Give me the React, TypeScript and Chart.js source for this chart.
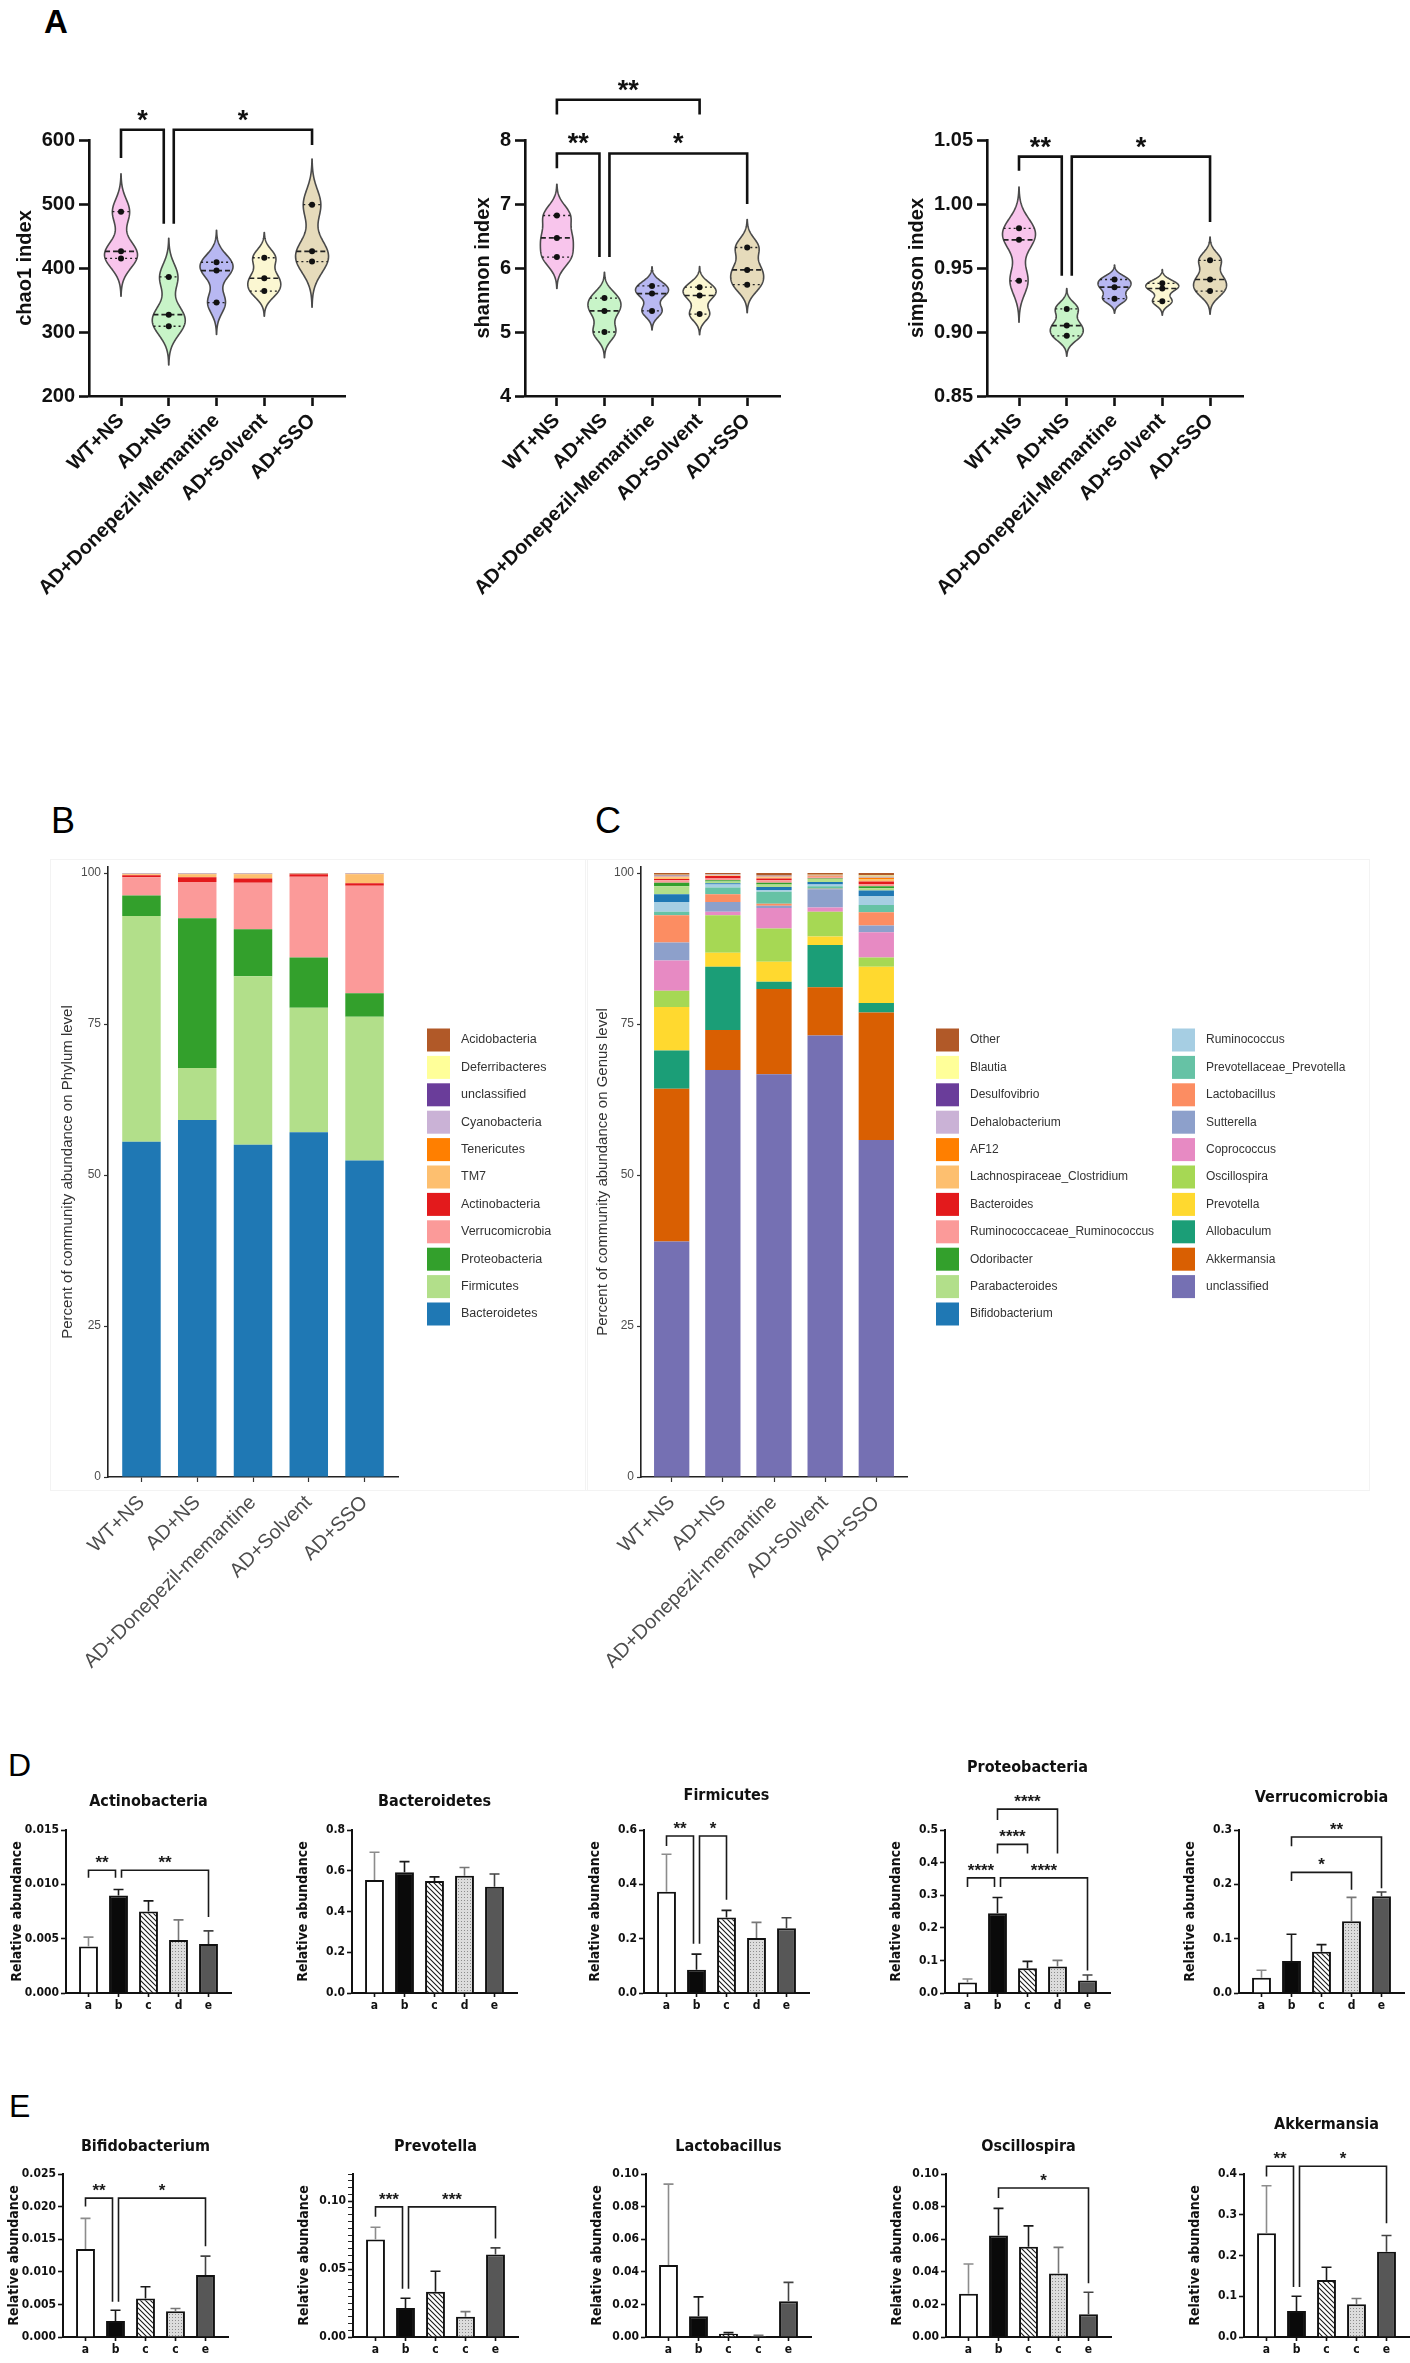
import React, { useEffect, useRef } from 'react';
import { Chart, registerables } from 'chart.js';

Chart.register(...registerables);

const SANS = "'Liberation Sans', Arial, Helvetica, sans-serif";
const NARROW = "'Liberation Sans Narrow', 'DejaVu Sans Condensed', 'Liberation Sans', Arial, sans-serif";
Chart.defaults.font.family = SANS;

// ================= Panel A : alpha diversity (violins) =================
const groupsA = ['WT+NS', 'AD+NS', 'AD+Donepezil-Memantine', 'AD+Solvent', 'AD+SSO'];
const chao1Values = [[488, 426, 415], [386, 327, 309], [409, 396, 346], [416, 384, 364], [499, 426, 410]];
const shannonValues = [[6.82, 6.47, 6.17], [5.53, 5.33, 5.0], [5.72, 5.6, 5.33], [5.7, 5.57, 5.28], [6.32, 5.97, 5.74]];
const simpsonValues = [[0.981, 0.972, 0.94], [0.918, 0.905, 0.897], [0.941, 0.935, 0.926], [0.938, 0.934, 0.924], [0.956, 0.941, 0.932]];
const chao1Ticks = [200, 300, 400, 500, 600];
const shannonTicks = [4, 5, 6, 7, 8];
const simpsonTicks = [0.85, 0.9, 0.95, 1.0, 1.05];
const violinFills = ['#f8c5ec', '#c8f4c8', '#b8b8f2', '#fbf7d2', '#e6dbbb'];

type Bracket = { a: number; b: number; top: number; ya: number; yb: number; label: string };
const chao1Brackets: Bracket[] = [
  { a: 1, b: 2, top: 616, ya: 572, yb: 469, label: '*' },
  { a: 2, b: 5, top: 616, ya: 469, yb: 592, label: '*' },
];
const shannonBrackets: Bracket[] = [
  { a: 1, b: 4, top: 8.63, ya: 8.4, yb: 8.4, label: '**' },
  { a: 1, b: 2, top: 7.79, ya: 7.56, yb: 6.17, label: '**' },
  { a: 2, b: 5, top: 7.79, ya: 6.17, yb: 7.0, label: '*' },
];
const simpsonBrackets: Bracket[] = [
  { a: 1, b: 2, top: 1.037, ya: 1.026, yb: 0.944, label: '**' },
  { a: 2, b: 5, top: 1.037, ya: 0.944, yb: 0.986, label: '*' },
];

// ================= Panel B : phylum level =================
const groupsBC = ['WT+NS', 'AD+NS', 'AD+Donepezil-memantine', 'AD+Solvent', 'AD+SSO'];
const phylumNames = ['Bacteroidetes', 'Firmicutes', 'Proteobacteria', 'Verrucomicrobia', 'Actinobacteria', 'TM7', 'Tenericutes', 'Cyanobacteria', 'unclassified', 'Deferribacteres', 'Acidobacteria'];
const phylumColors = ['#1f78b4', '#b2df8a', '#33a02c', '#fb9a99', '#e31a1c', '#fdbf6f', '#ff7f00', '#cab2d6', '#6a3d9a', '#ffff99', '#b15928'];
const pBacteroidetes = [55.5, 59.1, 55.0, 57.1, 52.4];
const pFirmicutes = [37.4, 8.6, 27.9, 20.6, 23.8];
const pProteobacteria = [3.4, 24.8, 7.8, 8.3, 3.9];
const pVerrucomicrobia = [3.0, 6.0, 7.7, 13.4, 17.8];
const pActinobacteria = [0.35, 0.8, 0.7, 0.4, 0.4];
const pTM7 = [0.15, 0.5, 0.7, 0.05, 1.5];
const pTenericutes = [0.05, 0.05, 0.05, 0.05, 0.05];
const pCyanobacteria = [0.05, 0.05, 0.05, 0.03, 0.05];
const pUnclassified = [0.03, 0.03, 0.03, 0.03, 0.03];
const pDeferribacteres = [0.03, 0.03, 0.03, 0.02, 0.03];
const pAcidobacteria = [0.04, 0.04, 0.04, 0.02, 0.04];
const phylumSeries = [pBacteroidetes, pFirmicutes, pProteobacteria, pVerrucomicrobia, pActinobacteria, pTM7, pTenericutes, pCyanobacteria, pUnclassified, pDeferribacteres, pAcidobacteria];

// ================= Panel C : genus level =================
const genusNames = ['unclassified', 'Akkermansia', 'Allobaculum', 'Prevotella', 'Oscillospira', 'Coprococcus', 'Sutterella', 'Lactobacillus', 'Prevotellaceae_Prevotella', 'Ruminococcus', 'Bifidobacterium', 'Parabacteroides', 'Odoribacter', 'Ruminococcaceae_Ruminococcus', 'Bacteroides', 'Lachnospiraceae_Clostridium', 'AF12', 'Dehalobacterium', 'Desulfovibrio', 'Blautia', 'Other'];
const genusColors = ['#7570b3', '#d95f02', '#1b9e77', '#ffd92f', '#a6d854', '#e78ac3', '#8da0cb', '#fc8d62', '#66c2a5', '#a6cee3', '#1f78b4', '#b2df8a', '#33a02c', '#fb9a99', '#e31a1c', '#fdbf6f', '#ff7f00', '#cab2d6', '#6a3d9a', '#ffff99', '#b15928'];
const gUnclassified = [39.0, 67.4, 66.7, 73.1, 55.8];
const gAkkermansia = [25.3, 6.6, 14.1, 8.0, 21.1];
const gAllobaculum = [6.3, 10.5, 1.2, 7.0, 1.6];
const gPrevotella = [7.2, 2.3, 3.3, 1.4, 6.0];
const gOscillospira = [2.7, 6.2, 5.5, 4.1, 1.5];
const gCoprococcus = [5.0, 0.6, 3.4, 0.7, 4.2];
const gSutterella = [3.0, 1.6, 0.4, 3.0, 1.1];
const gLactobacillus = [4.5, 1.3, 0.3, 0.1, 2.2];
const gPrevotellaceae = [0.6, 1.1, 2.0, 0.4, 1.2];
const gRuminococcus = [1.6, 0.5, 0.3, 0.3, 1.5];
const gBifidobacterium = [1.3, 0.2, 0.5, 0.4, 0.9];
const gParabacteroides = [1.3, 0.3, 0.4, 0.5, 0.4];
const gOdoribacter = [0.6, 0.2, 0.3, 0.1, 0.3];
const gRumRuminococcus = [0.4, 0.3, 0.4, 0.2, 0.4];
const gBacteroides = [0.2, 0.4, 0.3, 0.1, 0.4];
const gLachnoClostridium = [0.3, 0.1, 0.2, 0.1, 0.4];
const gAF12 = [0.1, 0.05, 0.1, 0.05, 0.2];
const gDehalobacterium = [0.1, 0.05, 0.1, 0.05, 0.1];
const gDesulfovibrio = [0.1, 0.05, 0.05, 0.05, 0.1];
const gBlautia = [0.1, 0.05, 0.05, 0.05, 0.2];
const gOther = [0.3, 0.2, 0.4, 0.3, 0.4];
const genusSeries = [gUnclassified, gAkkermansia, gAllobaculum, gPrevotella, gOscillospira, gCoprococcus, gSutterella, gLactobacillus, gPrevotellaceae, gRuminococcus, gBifidobacterium, gParabacteroides, gOdoribacter, gRumRuminococcus, gBacteroides, gLachnoClostridium, gAF12, gDehalobacterium, gDesulfovibrio, gBlautia, gOther];
const stackTicks = [0, 25, 50, 75, 100];

// ================= Panels D and E : relative abundance bars =================
const labelsD = ['a', 'b', 'c', 'd', 'e'];
const labelsE = ['a', 'b', 'c', 'c', 'e'];

const titlesD = ['Actinobacteria', 'Bacteroidetes', 'Firmicutes', 'Proteobacteria', 'Verrucomicrobia'];
const meanActino = [0.00429, 0.00897, 0.0075, 0.00487, 0.0045];
const sdActino = [0.00085, 0.00055, 0.00098, 0.00186, 0.00122];
const meanBacteroidetes = [0.555, 0.593, 0.55, 0.575, 0.522];
const sdBacteroidetes = [0.136, 0.052, 0.02, 0.041, 0.062];
const meanFirmicutes = [0.373, 0.086, 0.278, 0.202, 0.238];
const sdFirmicutes = [0.138, 0.057, 0.026, 0.058, 0.039];
const meanProteo = [0.032, 0.245, 0.076, 0.081, 0.038];
const sdProteo = [0.011, 0.048, 0.021, 0.019, 0.017];
const meanVerruco = [0.028, 0.059, 0.076, 0.132, 0.178];
const sdVerruco = [0.014, 0.049, 0.013, 0.044, 0.008];

const titlesE = ['Bifidobacterium', 'Prevotella', 'Lactobacillus', 'Oscillospira', 'Akkermansia'];
const meanBifido = [0.0135, 0.00246, 0.0059, 0.00395, 0.0095];
const sdBifido = [0.0047, 0.00164, 0.0018, 0.00041, 0.0029];
const meanPrevotella = [0.0717, 0.0214, 0.0334, 0.015, 0.0607];
const sdPrevotella = [0.0091, 0.0071, 0.015, 0.0037, 0.0049];
const meanLacto = [0.0441, 0.0127, 0.002, 0.0006, 0.022];
const sdLacto = [0.0497, 0.0119, 0.0007, 0.0004, 0.0115];
const meanOscillo = [0.0265, 0.0622, 0.0554, 0.039, 0.014];
const sdOscillo = [0.0183, 0.0167, 0.0128, 0.016, 0.0135];
const meanAkk = [0.2546, 0.064, 0.1396, 0.0805, 0.2094];
const sdAkk = [0.1164, 0.036, 0.0314, 0.014, 0.0396];

// y axes of the small charts: [max, step, decimals, labelled every]
const axisActino = [0.015, 0.005, 3, 0.005];
const axisBacteroidetes = [0.8, 0.2, 1, 0.2];
const axisFirmicutes = [0.6, 0.2, 1, 0.2];
const axisProteo = [0.5, 0.1, 1, 0.1];
const axisVerruco = [0.3, 0.1, 1, 0.1];
const axisBifido = [0.025, 0.005, 3, 0.005];
const axisPrevotella = [0.12, 0.005, 2, 0.05];
const axisLacto = [0.1, 0.02, 2, 0.02];
const axisOscillo = [0.1, 0.02, 2, 0.02];
const axisAkk = [0.4, 0.1, 1, 0.1];

const bracketsActino: Bracket[] = [
  { a: 1, b: 2, top: 0.0113, ya: 0.0106, yb: 0.0106, label: '**' },
  { a: 2, b: 5, top: 0.0113, ya: 0.0106, yb: 0.007, label: '**' },
];
const bracketsFirmicutes: Bracket[] = [
  { a: 1, b: 2, top: 0.578, ya: 0.541, yb: 0.181, label: '**' },
  { a: 2, b: 3, top: 0.578, ya: 0.181, yb: 0.343, label: '*' },
];
const bracketsProteo: Bracket[] = [
  { a: 1, b: 2, top: 0.353, ya: 0.325, yb: 0.325, label: '****' },
  { a: 2, b: 5, top: 0.353, ya: 0.325, yb: 0.069, label: '****' },
  { a: 2, b: 3, top: 0.456, ya: 0.428, yb: 0.428, label: '****' },
  { a: 2, b: 4, top: 0.564, ya: 0.531, yb: 0.428, label: '****' },
];
const bracketsVerruco: Bracket[] = [
  { a: 2, b: 4, top: 0.222, ya: 0.206, yb: 0.19, label: '*' },
  { a: 2, b: 5, top: 0.287, ya: 0.27, yb: 0.193, label: '**' },
];
const bracketsBifido: Bracket[] = [
  { a: 1, b: 2, top: 0.0213, ya: 0.02, yb: 0.0054, label: '**' },
  { a: 2, b: 5, top: 0.0213, ya: 0.0054, yb: 0.0139, label: '*' },
];
const bracketsPrevotella: Bracket[] = [
  { a: 1, b: 2, top: 0.0958, ya: 0.0885, yb: 0.0356, label: '***' },
  { a: 2, b: 5, top: 0.0958, ya: 0.0356, yb: 0.0725, label: '***' },
];
const bracketsOscillo: Bracket[] = [{ a: 2, b: 5, top: 0.0914, ya: 0.0852, yb: 0.0329, label: '*' }];
const bracketsAkk: Bracket[] = [
  { a: 1, b: 2, top: 0.419, ya: 0.394, yb: 0.123, label: '**' },
  { a: 2, b: 5, top: 0.419, ya: 0.123, yb: 0.279, label: '*' },
];

const smallD = [
  { means: meanActino, sd: sdActino, axis: axisActino, brackets: bracketsActino },
  { means: meanBacteroidetes, sd: sdBacteroidetes, axis: axisBacteroidetes, brackets: [] as Bracket[] },
  { means: meanFirmicutes, sd: sdFirmicutes, axis: axisFirmicutes, brackets: bracketsFirmicutes },
  { means: meanProteo, sd: sdProteo, axis: axisProteo, brackets: bracketsProteo },
  { means: meanVerruco, sd: sdVerruco, axis: axisVerruco, brackets: bracketsVerruco },
];
const smallE = [
  { means: meanBifido, sd: sdBifido, axis: axisBifido, brackets: bracketsBifido },
  { means: meanPrevotella, sd: sdPrevotella, axis: axisPrevotella, brackets: bracketsPrevotella },
  { means: meanLacto, sd: sdLacto, axis: axisLacto, brackets: [] as Bracket[] },
  { means: meanOscillo, sd: sdOscillo, axis: axisOscillo, brackets: bracketsOscillo },
  { means: meanAkk, sd: sdAkk, axis: axisAkk, brackets: bracketsAkk },
];

// ================= layout (pixels) =================
const D_X = [66, 352, 644, 945, 1239];
const E_X = [63, 353, 646, 946, 1244];
const D_TITLE_Y = [1802, 1802, 1796, 1768, 1798];
const E_TITLE_Y = [2147, 2147, 2147, 2147, 2125];

type Geo = { x0: number; y0: number; x1: number; y1: number; l: number; t: number; r: number; b: number; yW: number; xH: number };
type Box = { left: number; top: number; width: number; height: number };

function canvasBox(g: Geo): Box {
  return { left: g.x0 - g.l, top: g.y0 - g.t, width: g.x1 - g.x0 + g.l + g.r, height: g.y1 - g.y0 + g.t + g.b };
}
function padOf(g: Geo) {
  return { left: g.l - g.yW, top: g.t, right: g.r, bottom: g.b - g.xH };
}

// ================= plugins =================
const violinPlugin = {
  id: 'violin',
  beforeDatasetsDraw(chart: any, _a: any, opts: any) {
    if (!opts || !opts.fills) return;
    const { ctx } = chart;
    const xs = chart.scales.x;
    const ys = chart.scales.y;
    chart.data.datasets.forEach((ds: any, i: number) => {
      const vals: number[] = ds.data.map((p: any) => p.y).slice().sort((a: number, b: number) => a - b);
      const n = vals.length;
      const mean = vals.reduce((s, v) => s + v, 0) / n;
      const sd = Math.sqrt(vals.reduce((s, v) => s + (v - mean) ** 2, 0) / (n - 1));
      const h = opts.bw * sd;
      const lo = vals[0] - opts.tail * h;
      const hi = vals[n - 1] + opts.tail * h;
      const dens = (t: number) => vals.reduce((s, v) => s + Math.exp(-0.5 * ((t - v) / h) ** 2), 0);
      const N = 140;
      const prof: [number, number][] = [];
      let maxD = 0;
      for (let k = 0; k <= N; k++) {
        const t = lo + ((hi - lo) * k) / N;
        const d = dens(t);
        prof.push([t, d]);
        if (d > maxD) maxD = d;
      }
      const cx = xs.getPixelForValue(ds.data[0].x);
      const w = (d: number) => (d / maxD) * opts.maxHalf;
      ctx.save();
      ctx.beginPath();
      prof.forEach(([t, d], k) => {
        const px = cx + w(d);
        const py = ys.getPixelForValue(t);
        if (k === 0) ctx.moveTo(px, py);
        else ctx.lineTo(px, py);
      });
      for (let k = prof.length - 1; k >= 0; k--) {
        const [t, d] = prof[k];
        ctx.lineTo(cx - w(d), ys.getPixelForValue(t));
      }
      ctx.closePath();
      ctx.fillStyle = opts.fills[i];
      ctx.fill();
      ctx.lineWidth = opts.lineWidth;
      ctx.strokeStyle = opts.stroke;
      ctx.lineJoin = 'round';
      ctx.stroke();
      const med = n % 2 ? vals[(n - 1) / 2] : (vals[n / 2 - 1] + vals[n / 2]) / 2;
      const lines = [
        { v: vals[0], dash: [2, 3], lw: 1.3 },
        { v: vals[n - 1], dash: [2, 3], lw: 1.3 },
        { v: med, dash: [5, 3], lw: 1.7 },
      ];
      lines.forEach((L) => {
        const hw = w(dens(L.v));
        const py = ys.getPixelForValue(L.v);
        ctx.setLineDash(L.dash);
        ctx.lineWidth = L.lw;
        ctx.strokeStyle = '#222';
        ctx.beginPath();
        ctx.moveTo(cx - hw, py);
        ctx.lineTo(cx + hw, py);
        ctx.stroke();
      });
      ctx.restore();
    });
  },
};

const bracketPlugin = {
  id: 'brackets',
  afterDraw(chart: any, _a: any, opts: any) {
    const items: Bracket[] = (opts && opts.items) || [];
    if (!items.length) return;
    const { ctx } = chart;
    const xs = chart.scales.x;
    const ys = chart.scales.y;
    const tol = (ys.max - ys.min) * 0.03;
    ctx.save();
    ctx.strokeStyle = opts.color;
    ctx.fillStyle = opts.color;
    ctx.lineWidth = opts.lineWidth;
    ctx.lineJoin = 'miter';
    ctx.lineCap = 'butt';
    ctx.font = opts.font;
    ctx.textAlign = 'center';
    ctx.textBaseline = 'alphabetic';
    items.forEach((br) => {
      const peers = items.filter((o) => o !== br && Math.abs(o.top - br.top) < tol);
      let xa = xs.getPixelForValue(br.a);
      let xb = xs.getPixelForValue(br.b);
      if (peers.some((o) => o.b === br.a)) xa += opts.gap;
      if (peers.some((o) => o.a === br.b)) xb -= opts.gap;
      const yt = ys.getPixelForValue(br.top);
      ctx.beginPath();
      ctx.moveTo(xa, ys.getPixelForValue(br.ya));
      ctx.lineTo(xa, yt);
      ctx.lineTo(xb, yt);
      ctx.lineTo(xb, ys.getPixelForValue(br.yb));
      ctx.stroke();
      ctx.fillText(br.label, (xa + xb) / 2, yt - opts.labelGap);
    });
    ctx.restore();
  },
};

const errorBarPlugin = {
  id: 'errorBars',
  afterDatasetsDraw(chart: any, _a: any, opts: any) {
    if (!opts || !opts.sd) return;
    const { ctx } = chart;
    const ys = chart.scales.y;
    const meta = chart.getDatasetMeta(0);
    const ds = chart.data.datasets[0];
    ctx.save();
    ctx.lineWidth = opts.lineWidth;
    meta.data.forEach((el: any, i: number) => {
      const v = ds.data[i].y;
      const yTop = ys.getPixelForValue(v + opts.sd[i]);
      ctx.strokeStyle = opts.colors[i];
      ctx.beginPath();
      ctx.moveTo(el.x, el.y);
      ctx.lineTo(el.x, yTop);
      ctx.moveTo(el.x - opts.cap, yTop);
      ctx.lineTo(el.x + opts.cap, yTop);
      ctx.stroke();
    });
    ctx.restore();
  },
};

const titlePlugin = {
  id: 'panelTitle',
  afterDraw(chart: any, _a: any, opts: any) {
    if (!opts || !opts.text) return;
    const { ctx, chartArea } = chart;
    ctx.save();
    ctx.font = opts.font;
    ctx.fillStyle = opts.color;
    ctx.textAlign = 'center';
    ctx.textBaseline = 'middle';
    ctx.fillText(opts.text, (chartArea.left + chartArea.right) / 2, opts.y);
    ctx.restore();
  },
};

const stackLegendPlugin = {
  id: 'stackLegend',
  afterDraw(chart: any, _a: any, opts: any) {
    if (!opts || !opts.columns) return;
    const { ctx } = chart;
    const items = chart.data.datasets.map((d: any) => ({ label: d.label, color: d.backgroundColor })).reverse();
    ctx.save();
    ctx.font = opts.font;
    ctx.textAlign = 'left';
    ctx.textBaseline = 'middle';
    let idx = 0;
    opts.columns.forEach((count: number, c: number) => {
      for (let r = 0; r < count; r++, idx++) {
        const it = items[idx];
        if (!it) continue;
        const cy = opts.y0 + r * opts.rowH;
        ctx.fillStyle = it.color;
        ctx.fillRect(opts.xs[c], cy - opts.box / 2, opts.box, opts.box);
        ctx.fillStyle = opts.textColor;
        ctx.fillText(it.label, opts.xs[c] + opts.textDx, cy);
      }
    });
    ctx.restore();
  },
};

// ================= patterns =================
function hatchPattern(): CanvasPattern | string {
  const c = document.createElement('canvas');
  c.width = 5;
  c.height = 5;
  const x = c.getContext('2d');
  if (!x) return '#999';
  x.fillStyle = '#ffffff';
  x.fillRect(0, 0, 5, 5);
  x.strokeStyle = '#1a1a1a';
  x.lineWidth = 1.1;
  x.beginPath();
  x.moveTo(-1, -1);
  x.lineTo(6, 6);
  x.moveTo(-1, 4);
  x.lineTo(1, 6);
  x.moveTo(4, -1);
  x.lineTo(6, 1);
  x.stroke();
  return x.createPattern(c, 'repeat') || '#999';
}
function dotPattern(): CanvasPattern | string {
  const c = document.createElement('canvas');
  c.width = 3;
  c.height = 3;
  const x = c.getContext('2d');
  if (!x) return '#ddd';
  x.fillStyle = '#dcdcdc';
  x.fillRect(0, 0, 3, 3);
  x.fillStyle = '#8c8c8c';
  x.fillRect(1, 1, 1, 1);
  return x.createPattern(c, 'repeat') || '#ddd';
}

// ================= config builders =================
const BLACK = '#111111';

function violinConfig(values: number[][], ticks: number[], decimals: number, title: string, brackets: Bracket[], g: Geo) {
  const axisFont = { family: SANS, size: 20, weight: 'bold' as const };
  return {
    type: 'scatter',
    data: {
      datasets: values.map((vals, i) => ({
        data: vals.map((v) => ({ x: i + 1, y: v })),
        pointRadius: 3,
        pointHoverRadius: 3,
        pointBackgroundColor: BLACK,
        pointBorderWidth: 0,
      })),
    },
    options: {
      animation: false,
      responsive: false,
      devicePixelRatio: 1,
      events: [],
      layout: { padding: padOf(g) },
      plugins: {
        legend: { display: false },
        tooltip: { enabled: false },
        violin: { fills: violinFills, maxHalf: 16.5, bw: 0.5, tail: 3, lineWidth: 1.6, stroke: '#4a4a4a' },
        brackets: { items: brackets, color: BLACK, lineWidth: 2.6, gap: 5, font: `bold 27px ${SANS}`, labelGap: 1 },
      },
      scales: {
        x: {
          type: 'linear',
          min: 0.33,
          max: 5.69,
          afterBuildTicks: (s: any) => {
            s.ticks = groupsA.map((_, i) => ({ value: i + 1 }));
          },
          afterFit: (s: any) => {
            s.height = g.xH;
          },
          ticks: {
            callback: (v: any) => groupsA[Math.round(Number(v)) - 1],
            minRotation: 45,
            maxRotation: 45,
            autoSkip: false,
            font: axisFont,
            color: BLACK,
            padding: 3,
          },
          grid: { display: true, drawOnChartArea: false, drawTicks: true, tickLength: 10, tickWidth: 2.6, tickColor: BLACK },
          border: { display: true, color: BLACK, width: 2.6 },
        },
        y: {
          type: 'linear',
          min: ticks[0],
          max: ticks[ticks.length - 1],
          afterBuildTicks: (s: any) => {
            s.ticks = ticks.map((v) => ({ value: v }));
          },
          afterFit: (s: any) => {
            s.width = g.yW;
          },
          ticks: { callback: (v: any) => Number(v).toFixed(decimals), font: axisFont, color: BLACK, padding: 4 },
          grid: { display: true, drawOnChartArea: false, drawTicks: true, tickLength: 10, tickWidth: 2.6, tickColor: BLACK },
          border: { display: true, color: BLACK, width: 2.6 },
          title: { display: true, text: title, font: axisFont, color: BLACK, padding: 0 },
        },
      },
    },
    plugins: [violinPlugin, bracketPlugin],
  };
}

function stackConfig(names: string[], colors: string[], series: number[][], title: string, g: Geo, box: Box, legend: any) {
  return {
    type: 'bar',
    data: {
      datasets: names.map((n, i) => ({
        label: n,
        data: series[i].map((v, j) => ({ x: j + 1, y: v })),
        backgroundColor: colors[i],
        borderWidth: 0,
        barPercentage: 0.69,
        categoryPercentage: 1,
        stack: 'all',
      })),
    },
    options: {
      animation: false,
      responsive: false,
      devicePixelRatio: 1,
      events: [],
      layout: { padding: padOf(g) },
      plugins: {
        legend: { display: false },
        tooltip: { enabled: false },
        stackLegend: {
          columns: legend.columns,
          xs: legend.xs.map((x: number) => x - box.left),
          y0: legend.y0 - box.top,
          rowH: 27.4,
          box: 23,
          textDx: 34,
          font: `${legend.fontSize}px ${SANS}`,
          textColor: '#333333',
        },
      },
      scales: {
        x: {
          type: 'linear',
          stacked: true,
          offset: false,
          min: 0.4,
          max: 5.6,
          afterBuildTicks: (s: any) => {
            s.ticks = groupsBC.map((_, i) => ({ value: i + 1 }));
          },
          afterFit: (s: any) => {
            s.height = g.xH;
          },
          ticks: {
            callback: (v: any) => groupsBC[Math.round(Number(v)) - 1],
            minRotation: 45,
            maxRotation: 45,
            autoSkip: false,
            font: { family: SANS, size: 20 },
            color: '#4d4d4d',
            padding: 9,
          },
          grid: { display: true, offset: false, drawOnChartArea: false, drawTicks: true, tickLength: 5, tickWidth: 1.2, tickColor: '#333' },
          border: { display: true, color: '#222', width: 1.6 },
        },
        y: {
          type: 'linear',
          stacked: true,
          min: 0,
          max: 101,
          afterBuildTicks: (s: any) => {
            s.ticks = stackTicks.map((v) => ({ value: v }));
          },
          afterFit: (s: any) => {
            s.width = g.yW;
          },
          ticks: { font: { family: SANS, size: 12 }, color: '#4d4d4d', padding: 3 },
          grid: { display: true, drawOnChartArea: false, drawTicks: true, tickLength: 4, tickWidth: 1.2, tickColor: '#333' },
          border: { display: true, color: '#222', width: 1.6 },
          title: { display: true, text: title, font: { family: SANS, size: 15 }, color: '#333333', padding: 0 },
        },
      },
    },
    plugins: [stackLegendPlugin],
  };
}

function smallBarConfig(spec: any, labels: string[], title: string, titleY: number, g: Geo, box: Box) {
  const [yMax, step, decimals, every] = spec.axis as number[];
  const nT = Math.round(yMax / step);
  const tickVals = Array.from({ length: nT + 1 }, (_, k) => +(k * step).toFixed(6));
  const isMajor = (v: number) => Math.abs(v / every - Math.round(v / every)) < 1e-6;
  const fills = ['#ffffff', '#0a0a0a', hatchPattern(), dotPattern(), '#575757'];
  const tickFont = { family: NARROW, size: 12, weight: 'bold' as const };
  return {
    type: 'bar',
    data: {
      datasets: [
        {
          data: spec.means.map((v: number, j: number) => ({ x: j + 1, y: v })),
          backgroundColor: fills,
          borderColor: BLACK,
          borderWidth: 2,
          barPercentage: 0.63,
          categoryPercentage: 1,
        },
      ],
    },
    options: {
      animation: false,
      responsive: false,
      devicePixelRatio: 1,
      events: [],
      layout: { padding: padOf(g) },
      plugins: {
        legend: { display: false },
        tooltip: { enabled: false },
        errorBars: { sd: spec.sd, colors: ['#8c8c8c', '#1a1a1a', '#1a1a1a', '#777777', '#444444'], lineWidth: 1.6, cap: 5 },
        brackets: { items: spec.brackets, color: '#1a1a1a', lineWidth: 1.6, gap: 3, font: `bold 17px ${SANS}`, labelGap: 2 },
        panelTitle: { text: title, y: titleY - box.top, font: `bold 16px ${NARROW}`, color: BLACK },
      },
      scales: {
        x: {
          type: 'linear',
          offset: false,
          min: 0.25,
          max: 5.75,
          afterBuildTicks: (s: any) => {
            s.ticks = labels.map((_, i) => ({ value: i + 1 }));
          },
          afterFit: (s: any) => {
            s.height = g.xH;
          },
          ticks: { callback: (v: any) => labels[Math.round(Number(v)) - 1], autoSkip: false, maxRotation: 0, font: tickFont, color: BLACK, padding: 2 },
          grid: { display: true, offset: false, drawOnChartArea: false, drawTicks: true, tickLength: 4, tickWidth: 1.6, tickColor: BLACK },
          border: { display: true, color: BLACK, width: 2 },
        },
        y: {
          type: 'linear',
          min: 0,
          max: yMax,
          afterBuildTicks: (s: any) => {
            s.ticks = tickVals.map((v) => ({ value: v }));
          },
          afterFit: (s: any) => {
            s.width = g.yW;
          },
          ticks: {
            callback: (v: any) => (isMajor(Number(v)) ? Number(v).toFixed(decimals) : ''),
            autoSkip: false,
            font: tickFont,
            color: BLACK,
            padding: 2,
          },
          grid: {
            display: true,
            drawOnChartArea: false,
            drawTicks: true,
            tickLength: 5,
            tickWidth: (c: any) => (c.tick && isMajor(c.tick.value) ? 1.6 : 0.9),
            tickColor: BLACK,
          },
          border: { display: true, color: BLACK, width: 2 },
          title: { display: true, text: 'Relative abundance', font: { family: NARROW, size: 14, weight: 'bold' as const }, color: BLACK, padding: 0 },
        },
      },
    },
    plugins: [errorBarPlugin, bracketPlugin, titlePlugin],
  };
}

// ================= generic canvas component =================
function ChartBox({ geo, make }: { geo: Geo; make: (g: Geo, box: Box) => any }) {
  const ref = useRef<HTMLCanvasElement>(null);
  const box = canvasBox(geo);
  useEffect(() => {
    if (!ref.current) return;
    const chart = new Chart(ref.current, make(geo, box) as any);
    return () => chart.destroy();
  }, []);
  return (
    <canvas
      ref={ref}
      width={box.width}
      height={box.height}
      style={{ position: 'absolute', left: box.left, top: box.top, width: box.width, height: box.height }}
    />
  );
}

const geoChao: Geo = { x0: 89, y0: 140, x1: 345, y1: 396, l: 89, t: 140, r: 30, b: 220, yW: 76, xH: 220 };
const geoShannon: Geo = { x0: 525, y0: 140, x1: 780, y1: 396, l: 130, t: 140, r: 30, b: 220, yW: 54, xH: 220 };
const geoSimpson: Geo = { x0: 987, y0: 140, x1: 1243, y1: 396, l: 130, t: 140, r: 40, b: 220, yW: 82, xH: 220 };
const geoB: Geo = { x0: 108, y0: 867, x1: 398, y1: 1477, l: 108, t: 30, r: 200, b: 250, yW: 49, xH: 250 };
const geoC: Geo = { x0: 641, y0: 867, x1: 907, y1: 1477, l: 60, t: 30, r: 480, b: 250, yW: 47, xH: 250 };
const geoD = (i: number): Geo => ({ x0: D_X[i], y0: 1830, x1: D_X[i] + 165, y1: 1993, l: 66, t: 75, r: 22, b: 30, yW: 57, xH: 30 });
const geoE = (i: number): Geo => ({ x0: E_X[i], y0: 2174, x1: E_X[i] + 165, y1: 2337, l: 66, t: 62, r: 22, b: 26, yW: 57, xH: 26 });

function Letter({ text, left, top, size, bold }: { text: string; left: number; top: number; size: number; bold?: boolean }) {
  return (
    <div
      style={{
        position: 'absolute',
        left,
        top,
        fontFamily: SANS,
        fontSize: size,
        lineHeight: `${size}px`,
        fontWeight: bold ? 700 : 400,
        color: '#000',
      }}
    >
      {text}
    </div>
  );
}

export default function App() {
  return (
    <div style={{ position: 'absolute', left: 0, top: 0, width: 1410, height: 2363, background: '#ffffff', overflow: 'hidden' }}>
      <div style={{ position: 'absolute', left: 50, top: 859, width: 538, height: 632, border: '1px solid #f3f3f3', boxSizing: 'border-box' }} />
      <div style={{ position: 'absolute', left: 585, top: 859, width: 785, height: 632, border: '1px solid #f3f3f3', boxSizing: 'border-box' }} />

      <Letter text="A" left={44} top={5} size={33} bold />
      <Letter text="B" left={51} top={803} size={36} />
      <Letter text="C" left={595} top={803} size={36} />
      <Letter text="D" left={8} top={1749} size={32} />
      <Letter text="E" left={9} top={2090} size={32} />

      <ChartBox geo={geoChao} make={(g) => violinConfig(chao1Values, chao1Ticks, 0, 'chao1 index', chao1Brackets, g)} />
      <ChartBox geo={geoShannon} make={(g) => violinConfig(shannonValues, shannonTicks, 0, 'shannon index', shannonBrackets, g)} />
      <ChartBox geo={geoSimpson} make={(g) => violinConfig(simpsonValues, simpsonTicks, 2, 'simpson index', simpsonBrackets, g)} />

      <ChartBox
        geo={geoB}
        make={(g, box) =>
          stackConfig(phylumNames, phylumColors, phylumSeries, 'Percent of community abundance on Phylum level', g, box, {
            columns: [11],
            xs: [427],
            y0: 1040,
            fontSize: 12.5,
          })
        }
      />
      <ChartBox
        geo={geoC}
        make={(g, box) =>
          stackConfig(genusNames, genusColors, genusSeries, 'Percent of community abundance on Genus level', g, box, {
            columns: [11, 10],
            xs: [936, 1172],
            y0: 1040,
            fontSize: 12,
          })
        }
      />

      {smallD.map((spec, i) => (
        <ChartBox key={'d' + i} geo={geoD(i)} make={(g, box) => smallBarConfig(spec, labelsD, titlesD[i], D_TITLE_Y[i], g, box)} />
      ))}
      {smallE.map((spec, i) => (
        <ChartBox key={'e' + i} geo={geoE(i)} make={(g, box) => smallBarConfig(spec, labelsE, titlesE[i], E_TITLE_Y[i], g, box)} />
      ))}
    </div>
  );
}
